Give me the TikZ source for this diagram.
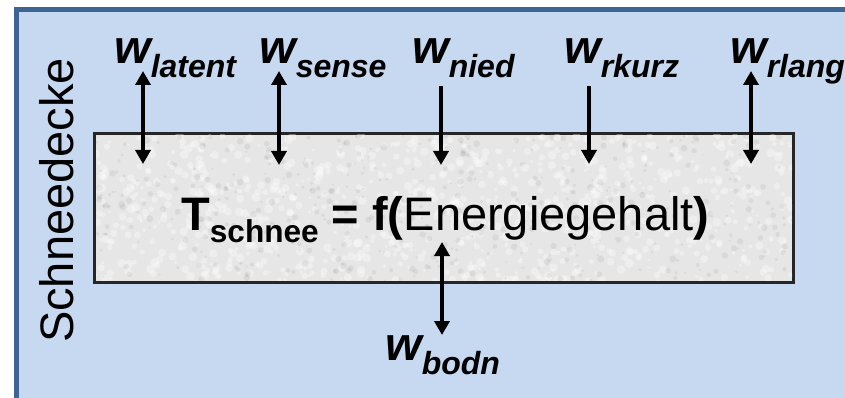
\documentclass[tikz,border=0pt]{standalone}
\usepackage{fontspec}
\setmainfont{Liberation Sans}
\usetikzlibrary{arrows.meta}
\definecolor{bgblue}{HTML}{C6D9F1}
\definecolor{frameblue}{HTML}{3E6494}
\definecolor{snowgray}{HTML}{E6E6E6}
\definecolor{boxline}{HTML}{262626}
\newcommand{\wlab}[1]{{\fontsize{47}{47}\selectfont\bfseries\itshape w}\raisebox{-14pt}{\fontsize{32}{32}\selectfont\bfseries\itshape #1}}
\begin{document}
\begin{tikzpicture}[x=1pt,y=-1pt,
  lab/.style={inner sep=0pt, anchor=base west},
  flux/.style={line width=3.8pt, -{Triangle[width=15pt,length=14pt]}},
  flux2/.style={line width=3.8pt, {Triangle[width=15pt,length=14pt]}-{Triangle[width=15pt,length=14pt]}}]
\useasboundingbox (0,0) rectangle (845,398);
\begin{scope}
  \clip (0,0) rectangle (845,398);
  \draw[line width=5pt, draw=frameblue, fill=bgblue] (16.5,9.5) rectangle (880,430);
\end{scope}
% snow layer
\draw[line width=3pt, draw=boxline, fill=snowgray] (94.5,133.5) rectangle (793.5,282);
\begin{scope}
  \clip (96,135) rectangle (792,280.5);
  \pgfmathsetseed{7}
  \foreach \i in {1,...,900} {
    \pgfmathsetmacro{\px}{96+696*rnd}
    \pgfmathsetmacro{\py}{135+146*rnd}
    \pgfmathsetmacro{\rr}{1.5+3*rnd}
    \fill[white, opacity=0.35] (\px,\py) circle (\rr pt);
  }
  \foreach \i in {1,...,500} {
    \pgfmathsetmacro{\px}{96+696*rnd}
    \pgfmathsetmacro{\py}{135+146*rnd}
    \pgfmathsetmacro{\rr}{1+2.5*rnd}
    \fill[gray, opacity=0.12] (\px,\py) circle (\rr pt);
  }
\end{scope}
% side label
\node[rotate=90, anchor=base, inner sep=0pt, font=\fontsize{47}{47}\selectfont] (side) at (73,200.5) {Schneedecke};
% equation
\node[lab] (eq) at (181,230) {{\fontsize{47}{47}\selectfont\bfseries T\raisebox{-12pt}{\fontsize{31.6}{32}\selectfont schnee} = f(}{\fontsize{47}{47}\selectfont Energiegehalt}{\fontsize{47}{47}\selectfont\bfseries )}};
% labels
\node[lab] (lat) at (114,64) {\wlab{latent}};
\node[lab] (sen) at (259,64) {\wlab{sense}};
\node[lab] (nie) at (412,64) {\wlab{nied}};
\node[lab] (rku) at (564,64) {\wlab{rkurz}};
\node[lab] (rla) at (730,64) {\wlab{rlang}};
\node[lab] (bod) at (385,360) {\wlab{bodn}};
% arrow end points
\coordinate (latA) at (143,71);  \coordinate (latB) at (143,164);
\coordinate (senA) at (279,71);  \coordinate (senB) at (279,165);
\coordinate (nieA) at (441,86);  \coordinate (nieB) at (441,165);
\coordinate (rkuA) at (589,86);  \coordinate (rkuB) at (589,164);
\coordinate (rlaA) at (751,71);  \coordinate (rlaB) at (751,164);
\coordinate (bodA) at (442,242); \coordinate (bodB) at (442,335);
\draw[flux2] (latA) -- (latB);
\draw[flux2] (senA) -- (senB);
\draw[flux]  (nieA) -- (nieB);
\draw[flux]  (rkuA) -- (rkuB);
\draw[flux2] (rlaA) -- (rlaB);
\draw[flux2] (bodA) -- (bodB);
\end{tikzpicture}
\end{document}
